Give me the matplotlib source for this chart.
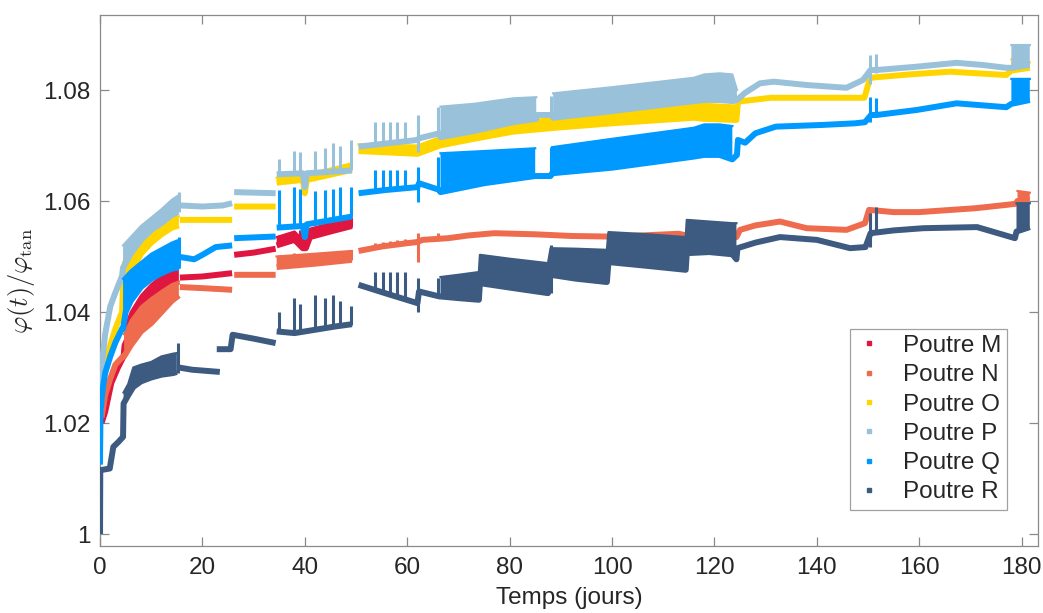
import numpy as np
import matplotlib
matplotlib.use("Agg")
import matplotlib.pyplot as plt
from matplotlib.lines import Line2D

nan = np.nan

# ---- data ----
# each series: t, base (lo) and envelope top (hi, nan = no band), plus isolated spikes
M_t  = [0.3, 1.0, 2.2, 3.5, 4.6, 4.8, 6, 8, 10, 12, 14, 15.4, nan, 15.6, 20, 25.8, nan,
        26.2, 30, 34.3, nan, 34.5, 38, 39.6, 40.2, 41, 45, 49.2]
M_lo = [1.020, 1.022, 1.0272, 1.030, 1.032, 1.034, 1.0365, 1.0395, 1.0415, 1.0435, 1.045, 1.0455, nan,
        1.0462, 1.0464, 1.047, nan, 1.0503, 1.0507, 1.0514, nan, 1.052, 1.053, 1.0515, 1.0515,
        1.0535, 1.0545, 1.0555]
M_hi = [nan, nan, nan, nan, nan, 1.037, 1.040, 1.043, 1.045, 1.0465, 1.0475, 1.048, nan,
        nan, nan, nan, nan, nan, nan, nan, nan, 1.0535, 1.0545, 1.053, 1.053, 1.055, 1.056, 1.0568]
M_st  = [35.0, 37.8, 39.1, 42.0, 43.9, 45.6, 46.9, 49.0]
M_slo = [1.0522, 1.0528, 1.053, 1.0537, 1.054, 1.0544, 1.0548, 1.0553]
M_shi = [1.0538, 1.0546, 1.0548, 1.0552, 1.0556, 1.056, 1.0563, 1.0568]

N_t  = [0.3, 1, 2, 3, 4.5, 4.7, 6, 8, 10, 12, 14, 15.4, nan, 15.6, 20, 25.8, nan, 26.2, 34.3, nan,
        34.5, 42, 49.2, nan, 50.5, 55, 60, 61.9, 63, 68, 72, 77, 85, 92, 99, 106, 113, 116, 118.7,
        121, 124.3, 125, 128, 132.8, 138, 145.8, 149.4, 150.2, 155, 160, 171, 177, 178.8, 179.2, 181.6]
N_lo = [1.021, 1.025, 1.028, 1.0305, 1.032, 1.032, 1.034, 1.0365, 1.038, 1.040, 1.042, 1.043, nan,
        1.0445, 1.0443, 1.044, nan, 1.0467, 1.0467, nan, 1.0481, 1.0487, 1.0494, nan,
        1.0510, 1.0518, 1.0524, 1.0526, 1.0530, 1.0533, 1.0538, 1.0542, 1.0540, 1.0537, 1.0536,
        1.0538, 1.0541, 1.0535, 1.0526, 1.053, 1.0535, 1.0548, 1.0556, 1.0563, 1.0551, 1.0548,
        1.056, 1.0584, 1.058, 1.058, 1.0587, 1.0593, 1.0595, 1.060, 1.0602]
N_hi = [nan, nan, nan, nan, nan, 1.036, 1.0385, 1.041, 1.0425, 1.0438, 1.045, 1.0455, nan,
        nan, nan, nan, nan, nan, nan, nan, 1.0500, 1.0505, 1.0510, nan,
        nan, nan, nan, nan, nan, nan, nan, nan, nan, nan, nan, nan, nan, nan, nan, nan, nan,
        nan, nan, nan, nan, nan, nan, nan, nan, nan, nan, nan, nan, 1.0618, 1.0615]
N_st  = [35.0, 37.8, 39.1, 42.0, 43.9, 45.6, 46.9, 49.0, 53.7, 55.3, 56.6, 58.1, 59.5, 62.1, 66.0, 150.4]
N_slo = [1.0481, 1.0483, 1.0484, 1.0487, 1.0489, 1.0491, 1.0492, 1.0494, 1.0515, 1.0518, 1.052,
         1.0522, 1.0524, 1.049, 1.0532, 1.056]
N_shi = [1.0503, 1.0506, 1.0505, 1.0507, 1.0508, 1.0508, 1.051, 1.051, 1.0525, 1.0527, 1.0528,
         1.053, 1.0531, 1.0542, 1.0542, 1.0588]

O_t  = [0.05, 0.5, 1, 2, 3, 4.3, 4.5, 6, 8, 10, 12, 14, 15.4, nan, 15.6, 25.8, nan, 26.2, 34.3, nan,
        34.5, 39.6, 40.0, 40.4, 49.2, nan, 50.5, 62, 66.4, 73, 80.7, 89, 100, 116, 118, 124.3,
        124.6, 131, 149.3, 150.4, 158, 166, 177, 178, 181.6]
O_lo = [1.022, 1.027, 1.031, 1.034, 1.037, 1.040, 1.045, 1.047, 1.0505, 1.0525, 1.054, 1.0552, 1.0556, nan,
        1.0566, 1.0566, nan, 1.059, 1.059, nan, 1.0633, 1.0638, 1.0614, 1.0638, 1.0656, nan,
        1.0690, 1.0685, 1.0700, 1.0712, 1.0725, 1.0732, 1.0740, 1.0750, 1.0748, 1.0746,
        1.0779, 1.0786, 1.0786, 1.0822, 1.0828, 1.0833, 1.0827, 1.0835, 1.084]
O_hi = [nan, nan, nan, nan, nan, nan, 1.049, 1.051, 1.053, 1.055, 1.0563, 1.057, 1.0572, nan,
        nan, nan, nan, nan, nan, nan, 1.0642, 1.0648, 1.0614, 1.0648, 1.0668, nan,
        1.0702, 1.0700, 1.0715, 1.0726, 1.0742, 1.0750, 1.0762, 1.0780, 1.0775, 1.0772,
        nan, nan, nan, nan, nan, nan, nan, 1.0855, 1.085]

P_t  = [0.0, 0.3, 1, 2, 3, 4.3, 4.5, 6, 8, 10, 12, 14, 15.3, nan, 15.7, 20, 24, 25.8, nan, 26.2, 34.3, nan,
        34.5, 39.6, 40.0, 40.4, 49.2, nan, 50.5, 62, 62.3, 66.3, 66.5, 73, 80.7, 85.2, 85.4, 88.2,
        88.5, 100, 116, 118, 121, 123.5, 124.4, 126, 128.9, 131.6, 138, 145.8, 149, 150.5, 151.7,
        159.5, 167.3, 172.5, 177, 178, 181.6]
P_lo = [1.022, 1.030, 1.036, 1.041, 1.0435, 1.0465, 1.048, 1.0505, 1.053, 1.0548, 1.056, 1.0575, 1.058, nan,
        1.0592, 1.059, 1.0592, 1.0596, nan, 1.0616, 1.0614, nan, 1.0648, 1.065, 1.0625, 1.065, 1.0655, nan,
        1.0698, 1.0710, 1.0713, 1.0722, 1.0715, 1.0726, 1.0742, 1.0748, 1.0755, 1.0755,
        1.0750, 1.0762, 1.0780, 1.0782, 1.0782, 1.0780, 1.0782, 1.0795, 1.0812, 1.0815, 1.0809,
        1.0804, 1.0818, 1.0836, 1.0836, 1.0842, 1.0849, 1.0845, 1.084, 1.084, 1.0845]
P_hi = [nan, nan, nan, nan, nan, nan, 1.052, 1.0535, 1.0555, 1.057, 1.0585, 1.0602, 1.061, nan,
        nan, nan, nan, nan, nan, nan, nan, nan, nan, nan, nan, nan, nan, nan,
        nan, nan, nan, nan, 1.077, 1.0775, 1.0785, 1.0787, nan, nan,
        1.0794, 1.0805, 1.0822, 1.0828, 1.083, 1.0828, 1.0800, nan, nan, nan, nan,
        nan, nan, nan, nan, nan, nan, nan, nan, 1.0881, 1.0881]
P_st  = [15.5, 35.0, 37.8, 39.1, 42.0, 43.9, 45.6, 46.9, 49.0, 53.7, 55.3, 56.6, 58.1, 59.5,
         62.1, 66.0, 88.0, 150.4, 151.6]
P_slo = [1.058, 1.065, 1.065, 1.065, 1.065, 1.065, 1.0652, 1.0653, 1.0655, 1.0701, 1.0702, 1.0703,
         1.0705, 1.0706, 1.0688, 1.072, 1.0755, 1.081, 1.083]
P_shi = [1.0616, 1.0675, 1.069, 1.0688, 1.069, 1.0695, 1.0705, 1.070, 1.071, 1.0742, 1.0742, 1.0742,
         1.0742, 1.0742, 1.0755, 1.0769, 1.079, 1.0863, 1.0865]

Q_t  = [0.0, 0.02, 0.1, 0.5, 1, 2, 3, 4.3, 4.5, 5, 6, 8, 10, 12, 14, 15.4, nan, 15.7, 18.4, 20, 22.6,
        25.8, nan, 26.2, 34.3, nan, 34.5, 39.6, 40.0, 40.4, 49.2, nan, 50.5, 56, 62, 62.3, 66.3,
        66.5, 75, 85.0, 85.2, 88.0, 88.3, 100, 116, 118, 121, 123.5, 124.4, 124.6, 126, 128, 132,
        141, 147.5, 149.4, 150.6, 151.7, 159.5, 167.3, 177, 178, 181.6]
Q_lo = [1.0125, 1.015, 1.022, 1.026, 1.029, 1.032, 1.0345, 1.037, 1.037, 1.040, 1.042, 1.0445, 1.046,
        1.047, 1.0478, 1.048, nan, 1.0499, 1.0495, 1.0503, 1.0517, 1.052, nan, 1.0533, 1.0536, nan,
        1.0552, 1.0555, 1.0535, 1.0558, 1.0572, nan, 1.0614, 1.062, 1.0625, 1.0632, 1.062,
        1.0616, 1.0632, 1.0645, 1.0645, 1.0645, 1.065, 1.066, 1.068, 1.0683, 1.0683, 1.0675, 1.0683,
        1.071, 1.0705, 1.0722, 1.0734, 1.0737, 1.074, 1.0742, 1.0755, 1.0755, 1.0764, 1.0776,
        1.0769, 1.0775, 1.0782]
Q_hi = [nan, nan, nan, nan, nan, nan, nan, nan, 1.046, 1.0465, 1.0475, 1.049, 1.0505, 1.0515, 1.0525,
        1.053, nan, nan, nan, nan, nan, nan, nan, nan, nan, nan, nan, nan, nan, nan, nan, nan,
        nan, nan, nan, nan, nan, 1.0686, 1.069, 1.0695, nan, nan, 1.0697, 1.0712, 1.0732, 1.0738,
        1.0738, 1.0735, nan, nan, nan, nan, nan, nan, nan, nan, nan, nan, nan, nan, nan, 1.082, 1.082]
Q_st  = P_st
Q_slo = [1.048, 1.0552, 1.0553, 1.0554, 1.0557, 1.0561, 1.0564, 1.0567, 1.0571, 1.0616, 1.0617,
         1.0619, 1.0621, 1.0623, 1.0598, 1.062, 1.0645, 1.0742, 1.0755]
Q_shi = [1.0535, 1.062, 1.0625, 1.0622, 1.0618, 1.062, 1.0622, 1.0625, 1.0625, 1.0656, 1.0656,
         1.0656, 1.0656, 1.0656, 1.0661, 1.068, 1.0697, 1.0788, 1.0785]

R_t  = [0.0, 0.05, 1.9, 2.6, 3.6, 4.5, 4.6, 5.5, 6.5, 8, 10, 12, 14.3, 15.0, nan, 15.4, 18, 23.4, nan,
        22.8, 25.5, 25.9, 30, 34.3, nan, 34.5, 38, 42, 46, 49.2, nan, 50.5, 56, 62.0, 62.3, 66.3,
        66.5, 70, 74.0, 74.2, 80, 87.5, 88.0, 93, 99.0, 99.3, 107, 114.4, 114.6, 119, 123.5, 124.3,
        124.5, 128, 132.8, 140, 146.5, 149.5, 150.5, 155, 160.8, 171.3, 178.7, 179.0, 181.6]
R_lo = [1.000, 1.0115, 1.0118, 1.0157, 1.0166, 1.0175, 1.0235, 1.025, 1.0265, 1.0275, 1.0282,
        1.0287, 1.029, 1.0292, nan, 1.0300, 1.0296, 1.0292, nan, 1.0333, 1.0333, 1.0359, 1.0352,
        1.0344, nan, 1.0365, 1.0362, 1.0368, 1.0374, 1.0378, nan, 1.0449, 1.0433, 1.0416, 1.0437,
        1.0428, 1.0428, 1.0425, 1.0422, 1.0452, 1.0444, 1.0434, 1.0467, 1.046, 1.0454, 1.049,
        1.0483, 1.0476, 1.0506, 1.0508, 1.0504, 1.0495, 1.0515, 1.0525, 1.0535, 1.053, 1.0515,
        1.0517, 1.0542, 1.0547, 1.0551, 1.0553, 1.0533, 1.0545, 1.0553]
R_hi = [nan, nan, nan, nan, nan, nan, 1.0255, 1.027, 1.030, 1.0305, 1.031, 1.032, 1.0325, 1.0326,
        nan, nan, nan, nan, nan, nan, nan, nan, nan, nan, nan, nan, nan, nan, nan, nan, nan,
        nan, nan, nan, nan, nan, 1.0463, 1.0467, 1.0472, 1.0503, 1.0496, 1.0488, 1.0515, 1.0514,
        1.0512, 1.0544, 1.054, 1.0535, 1.0566, 1.0563, 1.056, 1.056, nan, nan, nan, nan, nan,
        nan, nan, nan, nan, nan, nan, 1.0596, 1.0596]
R_st  = [15.2, 35.0, 37.8, 39.1, 42.0, 43.9, 45.6, 46.9, 49.0, 53.7, 55.3, 56.6, 58.1, 59.5,
         62.1, 66.0, 88.0, 150.4, 151.6]
R_slo = [1.029, 1.0365, 1.0362, 1.0364, 1.0368, 1.0371, 1.0374, 1.0376, 1.0377, 1.0442, 1.0438,
         1.0434, 1.043, 1.0426, 1.040, 1.0428, 1.0434, 1.0517, 1.0542]
R_shi = [1.0344, 1.040, 1.0425, 1.0415, 1.043, 1.0425, 1.043, 1.042, 1.041, 1.0472, 1.0472,
         1.0472, 1.0472, 1.0472, 1.0461, 1.0462, 1.0521, 1.0578, 1.059]

labels = ["Poutre M", "Poutre N", "Poutre O", "Poutre P", "Poutre Q", "Poutre R"]
colors = ["#DF1640", "#EF6B4D", "#FFD500", "#9AC1DA", "#0099FF", "#3D5A80"]

series = [
    (M_t, M_lo, M_hi, M_st, M_slo, M_shi),
    (N_t, N_lo, N_hi, N_st, N_slo, N_shi),
    (O_t, O_lo, O_hi, [], [], []),
    (P_t, P_lo, P_hi, P_st, P_slo, P_shi),
    (Q_t, Q_lo, Q_hi, Q_st, Q_slo, Q_shi),
    (R_t, R_lo, R_hi, R_st, R_slo, R_shi),
]

plt.rcParams['font.family'] = ['Liberation Sans', 'DejaVu Sans']
plt.rcParams['mathtext.fontset'] = 'cm'

fig = plt.figure(figsize=(10.43, 6.13), dpi=100)
ax = fig.add_axes([0.0959, 0.1093, 0.8993, 0.8662])

for i, (t, lo, hi, st, slo, shi) in enumerate(series):
    c = colors[i]
    t = np.array(t, dtype=float)
    lo = np.array(lo, dtype=float)
    hi = np.array(hi, dtype=float)
    z = 2 + i
    ax.fill_between(t, lo, hi, color=c, lw=0, zorder=z)
    ax.plot(t, hi, color=c, lw=1.6, zorder=z)
    ax.plot(t, lo, color=c, lw=4.3, solid_capstyle='butt', zorder=z)
    if len(st):
        ax.vlines(st, slo, shi, colors=c, lw=2.2, zorder=z)

ax.set_xlim(0, 183.2)
ax.set_ylim(0.99784, 1.09351)
ax.set_xticks(np.arange(0, 181, 20))
ax.set_yticks([1.0, 1.02, 1.04, 1.06, 1.08])
ax.set_yticklabels(["1", "1.02", "1.04", "1.06", "1.08"])

for s in ax.spines.values():
    s.set_color("#8a8a8a")
    s.set_linewidth(0.9)
ax.tick_params(direction='in', length=6.5, width=0.9, color="#8a8a8a",
               labelsize=17.5, labelcolor="#262626", top=True, right=True)
ax.tick_params(axis='x', pad=8)
ax.tick_params(axis='y', pad=7)

ax.set_xlabel("Temps (jours)", fontsize=17.5, color="#262626", labelpad=6)
ax.set_ylabel(r"$\varphi(t)/\varphi_{\mathrm{tan}}$", fontsize=19, color="#262626", labelpad=4)

handles = [Line2D([], [], ls='none', marker='s', ms=3.5, color=c) for c in colors]
leg = ax.legend(handles, labels, loc='upper right', bbox_to_anchor=(0.967, 0.409),
                fontsize=17.5, frameon=True, fancybox=False, handlelength=1.0,
                handletextpad=0.9, labelspacing=0.3, borderpad=0.25, borderaxespad=0)
leg.get_frame().set_edgecolor("#8a8a8a")
leg.get_frame().set_linewidth(0.9)
for tx in leg.get_texts():
    tx.set_color("#262626")

fig.savefig("out.png", dpi=100)
